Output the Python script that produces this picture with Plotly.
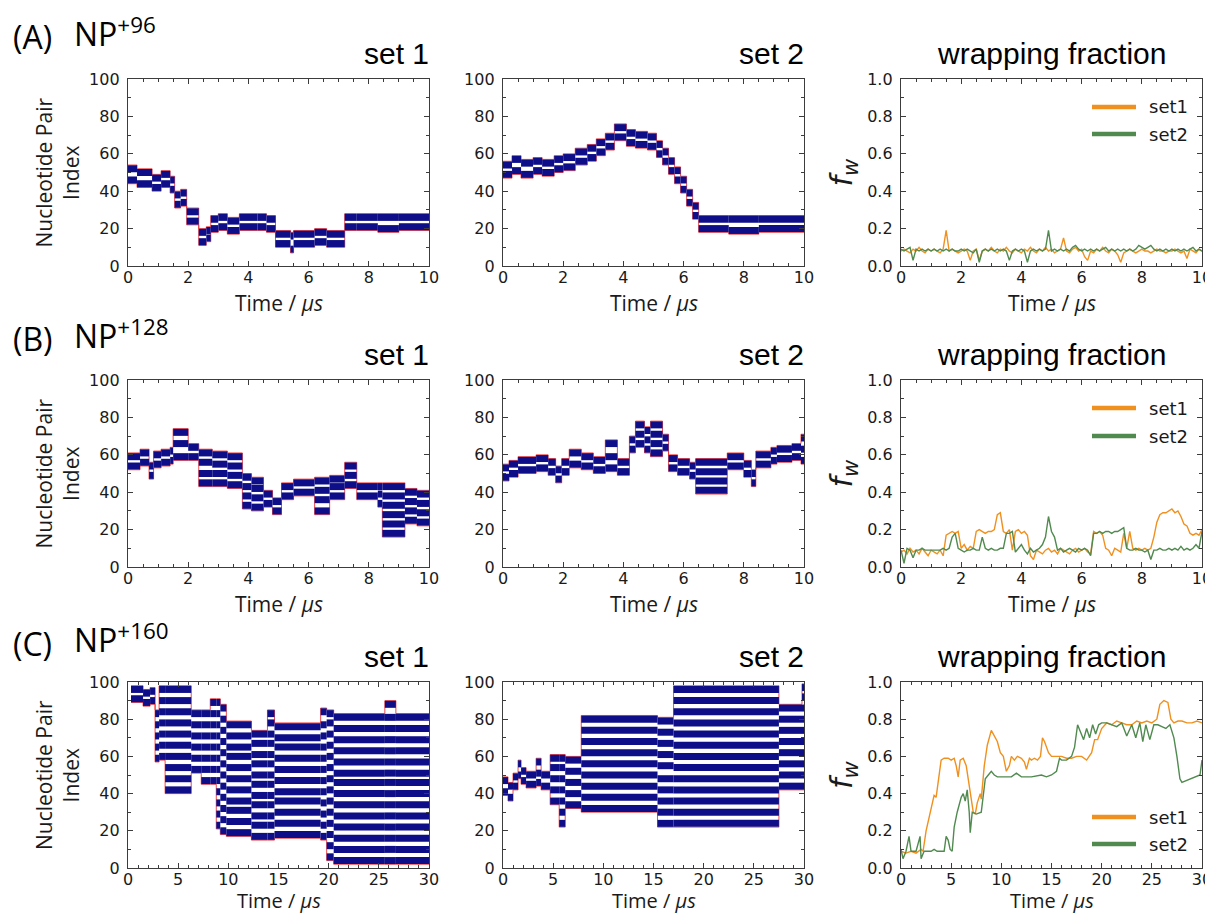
import plotly.graph_objects as go

# page offset of the plot div (browser default body margin)
OFF = 8
FW, FH = 1213 - OFF, 917 - OFF

# ------------------------------------------------------------------ data
# contact bands: segment edges (time, us) and band centres (nucleotide pair index)
A1_edges = [0, 0.3, 0.8, 1.1, 1.4, 1.55, 1.75, 1.95, 2.35, 2.6, 2.75, 3.0, 3.3, 3.7,
            4.3, 4.6, 4.9, 5.4, 5.5, 6.2, 6.6, 7.2, 7.6, 8.3, 9.0, 10]
A1_bands = [[46, 52], [44, 50], [42, 47], [44, 49], [41, 46], [33, 38], [34, 39], [24, 29],
            [13, 18], [15, 19], [20, 25], [21, 26], [19, 24], [21, 26], [21, 26], [20, 25],
            [12, 17], [9, 16], [12, 17], [13, 18], [12, 17], [21, 26], [21, 26], [20, 26],
            [21, 26]]

A2_edges = [0, 0.3, 0.6, 1.0, 1.3, 1.7, 2.0, 2.4, 2.8, 3.1, 3.4, 3.7, 4.1, 4.4, 4.8, 5.1,
            5.3, 5.5, 5.7, 5.9, 6.1, 6.3, 6.5, 7.5, 8.5, 10]
A2_bands = [[49, 54], [51, 57], [49, 55], [51, 56], [50, 55], [52, 57], [53, 58], [56, 61],
            [58, 63], [61, 66], [64, 69], [69, 74], [66, 71], [65, 70], [64, 69], [60, 65],
            [56, 61], [51, 56], [46, 51], [41, 46], [34, 39], [27, 32], [20, 25], [19, 25],
            [20, 25]]

B1_edges = [0, 0.4, 0.7, 0.85, 1.1, 1.4, 1.5, 2.0, 2.35, 2.8, 3.3, 3.8, 4.1, 4.5, 4.8, 5.1,
            5.5, 6.2, 6.7, 7.2, 7.6, 8.3, 8.45, 9.2, 9.6, 10]
B1_bands = [[54, 59], [56, 61], [49, 54], [55, 60], [56, 61], [57, 62], [59, 66, 72],
            [59, 64], [45, 50, 56, 61], [45, 50, 55, 60], [44, 49, 54, 59],
            [33, 38, 43, 48], [32, 37, 42, 46], [34, 39], [30, 35], [38, 43], [40, 45],
            [30, 36, 41, 46], [38, 43, 47], [44, 49, 54], [38, 43], [34, 39, 43],
            [18, 23, 28, 33, 38, 43], [25, 30, 35, 40], [24, 29, 34, 39]]

B2_edges = [0, 0.2, 0.5, 1.1, 1.5, 1.75, 1.95, 2.2, 2.6, 3.0, 3.4, 3.8, 4.2, 4.4, 4.7, 4.9,
            5.3, 5.5, 5.8, 6.2, 6.4, 7.45, 8.0, 8.25, 8.4, 8.9, 9.1, 9.6, 9.9, 10]
B2_bands = [[48, 53], [50, 55], [52, 57], [53, 58], [51, 56], [47, 52], [51, 56], [55, 61],
            [54, 59], [52, 57], [53, 59, 66], [51, 56], [63, 68], [66, 71, 76],
            [63, 68, 73], [61, 66, 71, 76], [64, 69], [53, 58], [51, 56], [49, 54],
            [41, 46, 51, 56], [54, 59], [50, 55], [45, 50], [55, 60], [57, 62], [58, 63],
            [59, 64], [57, 63, 69]]

C1_edges = [0.3, 1.5, 2.2, 2.7, 3.1, 3.7, 6.3, 7.3, 8.2, 8.8, 9.2, 9.8, 12.3, 13.9, 14.6,
            19.2, 19.8, 20.5, 25.6, 26.7, 30]
C1_bands = [[91, 96], [89, 94], [90, 95],
            [59, 65, 71, 77, 83],
            [60, 66, 72, 78, 84, 90, 96],
            [42, 48, 54, 60, 66, 72, 78, 84, 90, 96],
            [53, 59, 65, 71, 77, 83],
            [47, 53, 59, 65, 71, 77, 83],
            [47, 53, 59, 65, 71, 77, 83, 89],
            [23, 29, 35, 41, 47, 53, 59, 65, 71, 77, 83, 89],
            [20, 26, 32, 38, 44, 50, 56, 62, 68, 74, 80, 86],
            [19, 25, 31, 36, 42, 48, 54, 60, 65, 71, 77],
            [17, 23, 28, 34, 39, 45, 50, 56, 61, 67, 72],
            [17, 23, 28, 34, 39, 45, 50, 56, 61, 67, 72, 78, 83],
            [18, 24, 30, 36, 41, 47, 53, 59, 65, 70, 76],
            [17, 23, 29, 35, 41, 47, 53, 59, 65, 71, 77, 84],
            [6, 12, 18, 24, 30, 36, 42, 48, 54, 60, 66, 72, 78, 83],
            [4, 10, 16, 22, 28, 34, 40, 46, 51, 57, 63, 69, 75, 81],
            [4, 10, 16, 22, 28, 34, 40, 46, 51, 57, 63, 69, 75, 81, 88],
            [4, 10, 16, 22, 28, 34, 40, 46, 51, 57, 63, 69, 75, 81]]

C2_edges = [0, 0.5, 1.0, 1.5, 1.8, 2.3, 3.3, 3.8, 4.7, 5.6, 6.2, 7.8, 15.4, 17.0, 27.5,
            29.8, 30]
C2_bands = [[41, 47], [38, 44], [44, 49], [50, 56], [47, 52], [45, 50], [46, 51, 57],
            [44, 50],
            [36, 42, 48, 54, 59],
            [24, 30, 36, 42, 48, 54, 59],
            [34, 40, 46, 52, 58],
            [32, 38, 44, 50, 56, 62, 68, 74, 80],
            [24, 30, 36, 42, 48, 55, 61, 67, 73, 79],
            [24, 30, 36, 42, 48, 54, 60, 66, 72, 78, 84, 90, 96],
            [44, 50, 56, 62, 68, 74, 80, 86],
            [44, 50, 56, 62, 68, 74, 80, 86, 92, 97]]

# wrapping fraction
AB_wrap_t = [0.0, 0.1, 0.2, 0.3, 0.4, 0.5, 0.6, 0.7, 0.8, 0.9,
             1.0, 1.1, 1.2, 1.3, 1.4, 1.5, 1.6, 1.7, 1.8, 1.9,
             2.0, 2.1, 2.2, 2.3, 2.4, 2.5, 2.6, 2.7, 2.8, 2.9,
             3.0, 3.1, 3.2, 3.3, 3.4, 3.5, 3.6, 3.7, 3.8, 3.9,
             4.0, 4.1, 4.2, 4.3, 4.4, 4.5, 4.6, 4.7, 4.8, 4.9,
             5.0, 5.1, 5.2, 5.3, 5.4, 5.5, 5.6, 5.7, 5.8, 5.9,
             6.0, 6.1, 6.2, 6.3, 6.4, 6.5, 6.6, 6.7, 6.8, 6.9,
             7.0, 7.1, 7.2, 7.3, 7.4, 7.5, 7.6, 7.7, 7.8, 7.9,
             8.0, 8.1, 8.2, 8.3, 8.4, 8.5, 8.6, 8.7, 8.8, 8.9,
             9.0, 9.1, 9.2, 9.3, 9.4, 9.5, 9.6, 9.7, 9.8, 9.9, 10.0]
A_wrap_set1 = [0.08, 0.09, 0.08, 0.07, 0.09, 0.08, 0.10, 0.08, 0.07, 0.09,
               0.08, 0.09, 0.08, 0.07, 0.09, 0.19, 0.08, 0.09, 0.08, 0.07,
               0.08, 0.09, 0.08, 0.03, 0.08, 0.09, 0.03, 0.08, 0.09, 0.08,
               0.10, 0.08, 0.07, 0.09, 0.08, 0.10, 0.08, 0.07, 0.09, 0.08,
               0.07, 0.09, 0.08, 0.10, 0.08, 0.07, 0.09, 0.08, 0.10, 0.08,
               0.09, 0.07, 0.08, 0.09, 0.15, 0.08, 0.07, 0.09, 0.10, 0.08,
               0.09, 0.05, 0.03, 0.08, 0.07, 0.09, 0.08, 0.10, 0.08, 0.07,
               0.09, 0.08, 0.06, 0.02, 0.07, 0.08, 0.09, 0.08, 0.07, 0.08,
               0.09, 0.08, 0.08, 0.07, 0.08, 0.09, 0.08, 0.08, 0.07, 0.08,
               0.08, 0.09, 0.08, 0.07, 0.08, 0.04, 0.09, 0.08, 0.07, 0.09, 0.08]
A_wrap_set2 = [0.09, 0.08, 0.09, 0.10, 0.03, 0.09, 0.08, 0.09, 0.08, 0.09,
               0.08, 0.09, 0.08, 0.09, 0.08, 0.09, 0.08, 0.09, 0.08, 0.08,
               0.09, 0.08, 0.09, 0.08, 0.07, 0.09, 0.02, 0.08, 0.09, 0.08,
               0.09, 0.08, 0.09, 0.08, 0.09, 0.08, 0.03, 0.08, 0.09, 0.08,
               0.09, 0.08, 0.02, 0.08, 0.09, 0.08, 0.09, 0.08, 0.09, 0.19,
               0.08, 0.09, 0.08, 0.09, 0.08, 0.09, 0.08, 0.10, 0.11, 0.09,
               0.08, 0.09, 0.08, 0.09, 0.08, 0.09, 0.08, 0.09, 0.10, 0.08,
               0.09, 0.08, 0.09, 0.08, 0.09, 0.08, 0.09, 0.08, 0.09, 0.11,
               0.10, 0.09, 0.10, 0.11, 0.09, 0.08, 0.09, 0.08, 0.09, 0.08,
               0.09, 0.08, 0.09, 0.08, 0.09, 0.08, 0.09, 0.10, 0.08, 0.09, 0.08]
B_wrap_set1 = [0.08, 0.09, 0.07, 0.10, 0.08, 0.09, 0.07, 0.10, 0.08, 0.06,
               0.09, 0.08, 0.07, 0.09, 0.06, 0.17, 0.18, 0.19, 0.18, 0.19,
               0.10, 0.12, 0.09, 0.11, 0.10, 0.19, 0.20, 0.19, 0.18, 0.19,
               0.19, 0.20, 0.28, 0.29, 0.19, 0.18, 0.20, 0.09, 0.19, 0.20,
               0.18, 0.19, 0.17, 0.06, 0.04, 0.09, 0.08, 0.07, 0.09, 0.10,
               0.08, 0.09, 0.07, 0.10, 0.09, 0.08, 0.07, 0.09, 0.10, 0.08,
               0.09, 0.10, 0.08, 0.07, 0.19, 0.18, 0.19, 0.17, 0.10, 0.09,
               0.06, 0.10, 0.09, 0.08, 0.18, 0.10, 0.19, 0.10, 0.09, 0.10,
               0.09, 0.10, 0.09, 0.10, 0.16, 0.24, 0.28, 0.29, 0.29, 0.30,
               0.31, 0.29, 0.30, 0.27, 0.23, 0.22, 0.18, 0.17, 0.18, 0.17, 0.20]
B_wrap_set2 = [0.09, 0.02, 0.10, 0.09, 0.05, 0.09, 0.09, 0.10, 0.09, 0.09,
               0.09, 0.09, 0.09, 0.09, 0.10, 0.09, 0.10, 0.16, 0.18, 0.10,
               0.09, 0.08, 0.09, 0.09, 0.10, 0.09, 0.09, 0.16, 0.10, 0.09,
               0.10, 0.09, 0.09, 0.10, 0.10, 0.18, 0.18, 0.19, 0.08, 0.10,
               0.12, 0.09, 0.07, 0.10, 0.08, 0.09, 0.10, 0.12, 0.16, 0.27,
               0.19, 0.16, 0.09, 0.10, 0.08, 0.09, 0.10, 0.09, 0.08, 0.10,
               0.09, 0.10, 0.09, 0.06, 0.18, 0.18, 0.19, 0.18, 0.19, 0.19,
               0.18, 0.19, 0.19, 0.20, 0.21, 0.10, 0.09, 0.09, 0.10, 0.09,
               0.09, 0.08, 0.09, 0.04, 0.09, 0.09, 0.10, 0.09, 0.09, 0.10,
               0.09, 0.10, 0.09, 0.11, 0.09, 0.10, 0.09, 0.10, 0.12, 0.10, 0.19]

C_wrap_set1_t = [0, 0.5, 1.0, 1.5, 2.0, 2.2, 2.5, 2.8, 3.0, 3.3, 3.5, 3.8, 4.0, 4.3, 4.7,
                 5.0, 5.3, 5.5, 5.7, 5.9, 6.2, 6.5, 6.8, 7.0, 7.2, 7.4, 7.6, 7.9, 8.0,
                 8.3, 8.6, 9.0, 9.3, 9.6, 9.9, 10.2, 10.5, 10.8, 11.0, 11.3, 11.6, 12.0,
                 12.3, 12.5, 12.8, 13.0, 13.3, 13.6, 13.9, 14.1, 14.3, 14.5, 14.7, 15.0,
                 15.5, 16.0, 16.5, 17.0, 17.5, 18.0, 18.5, 19.0, 19.3, 19.6, 20.0, 20.5,
                 21.0, 21.5, 22.0, 22.5, 23.0, 23.5, 24.0, 24.5, 25.0, 25.5, 25.8, 26.2,
                 26.6, 26.9, 27.2, 27.6, 28.0, 28.5, 29.0, 29.5, 30.0]
C_wrap_set1 = [0.09, 0.08, 0.09, 0.08, 0.10, 0.09, 0.20, 0.27, 0.31, 0.39, 0.38, 0.50,
               0.58, 0.59, 0.59, 0.58, 0.59, 0.55, 0.49, 0.58, 0.59, 0.55, 0.45, 0.38,
               0.30, 0.29, 0.35, 0.40, 0.37, 0.55, 0.66, 0.74, 0.71, 0.68, 0.62, 0.60,
               0.52, 0.55, 0.60, 0.58, 0.60, 0.59, 0.57, 0.53, 0.59, 0.58, 0.59, 0.58,
               0.60, 0.70, 0.68, 0.65, 0.62, 0.60, 0.60, 0.60, 0.59, 0.59, 0.60, 0.60,
               0.58, 0.62, 0.69, 0.69, 0.75, 0.78, 0.77, 0.79, 0.78, 0.77, 0.77, 0.79,
               0.78, 0.79, 0.78, 0.80, 0.88, 0.90, 0.89, 0.80, 0.78, 0.79, 0.79, 0.78,
               0.78, 0.79, 0.78]
C_wrap_set2_t = [0, 0.2, 0.5, 0.8, 1.0, 1.5, 1.9, 2.0, 2.3, 3.0, 3.3, 3.6, 4.0, 4.3, 4.5,
                 4.7, 4.9, 5.1, 5.3, 5.6, 6.0, 6.2, 6.4, 6.6, 6.8, 6.9, 7.1, 7.5, 8.0, 8.2,
                 8.4, 8.7, 9.0, 9.3, 9.6, 10.0, 11.0, 11.5, 12.0, 13.0, 14.0, 14.5, 15.0,
                 15.5, 15.8, 16.0, 16.5, 17.0, 17.3, 17.6, 18.0, 18.2, 18.5, 18.8, 19.1,
                 19.4, 19.7, 20.0, 20.5, 21.0, 21.5, 22.0, 22.5, 23.0, 23.4, 23.8, 24.1,
                 24.4, 24.8, 25.2, 25.6, 26.0, 26.4, 26.8, 27.2, 27.5, 27.8, 28.0, 28.5,
                 29.0, 29.5, 29.8, 30.0]
C_wrap_set2 = [0.10, 0.05, 0.09, 0.17, 0.09, 0.09, 0.17, 0.05, 0.09, 0.09, 0.10, 0.09,
               0.09, 0.09, 0.17, 0.15, 0.10, 0.09, 0.22, 0.30, 0.38, 0.40, 0.36, 0.42,
               0.30, 0.19, 0.30, 0.29, 0.30, 0.38, 0.48, 0.50, 0.52, 0.50, 0.49, 0.49,
               0.49, 0.51, 0.49, 0.49, 0.50, 0.49, 0.50, 0.52, 0.59, 0.58, 0.58, 0.60,
               0.65, 0.77, 0.72, 0.69, 0.75, 0.70, 0.77, 0.72, 0.77, 0.78, 0.78, 0.77,
               0.76, 0.78, 0.71, 0.77, 0.70, 0.78, 0.68, 0.77, 0.69, 0.77, 0.77, 0.76,
               0.75, 0.77, 0.70, 0.60, 0.48, 0.46, 0.47, 0.48, 0.49, 0.50, 0.58]

row_tags = ["(A)", "(B)", "(C)"]
row_np = ["NP<sup>+96</sup>", "NP<sup>+128</sup>", "NP<sup>+160</sup>"]
col_titles = ["set 1", "set 2", "wrapping fraction"]
legend_names = ["set1", "set2"]

for e, b in [(A1_edges, A1_bands), (A2_edges, A2_bands), (B1_edges, B1_bands),
             (B2_edges, B2_bands), (C1_edges, C1_bands), (C2_edges, C2_bands)]:
    assert len(e) == len(b) + 1, (len(e), len(b))
for t, v in [(AB_wrap_t, A_wrap_set1), (AB_wrap_t, A_wrap_set2), (AB_wrap_t, B_wrap_set1),
             (AB_wrap_t, B_wrap_set2), (C_wrap_set1_t, C_wrap_set1),
             (C_wrap_set2_t, C_wrap_set2)]:
    assert len(t) == len(v), (len(t), len(v))

# ------------------------------------------------------------------ style
NAVY = "#0e0e88"
RED = "rgba(235,45,45,0.85)"
ORANGE = "#f0901e"
GREEN = "#508a4f"
FRAME = "#3c3c3c"
TXT = "#1a1a1a"
PAD = 2.0

# window-pixel positions of the plot areas
cols = [(128, 429), (503, 804), (901, 1202)]
rows = [(79, 266), (380, 567), (682, 868)]
legend_rows = [(107, 134), (408, 436), (817, 844)]


def PX(x):
    return (x - OFF) / FW


def PY(y):
    return 1 - (y - OFF) / FH


fig = go.Figure()


def ax_names(r, c):
    n = r * 3 + c + 1
    s = "" if n == 1 else str(n)
    return "x" + s, "y" + s, "xaxis" + s, "yaxis" + s


def add_bands(edges, bands, xa, ya):
    ex, top, bot = [], [], []
    for i, lv in enumerate(bands):
        ex.append(edges[i]); top.append(max(lv) + PAD); bot.append(min(lv) - PAD)
    ex.append(edges[-1]); top.append(top[-1]); bot.append(bot[-1])
    for env in (top, bot):
        fig.add_trace(go.Scatter(x=ex, y=env, mode="lines", xaxis=xa, yaxis=ya,
                                 line=dict(color=RED, width=1, shape="hv"),
                                 showlegend=False, hoverinfo="skip"))
    xs, ys = [], []
    for i, lv in enumerate(bands):
        for l in lv:
            xs += [edges[i], edges[i + 1], None]
            ys += [l, l, None]
    fig.add_trace(go.Scatter(x=xs, y=ys, mode="lines", xaxis=xa, yaxis=ya,
                             line=dict(color=NAVY, width=7),
                             showlegend=False, hoverinfo="skip"))


band_data = [[(A1_edges, A1_bands), (A2_edges, A2_bands)],
             [(B1_edges, B1_bands), (B2_edges, B2_bands)],
             [(C1_edges, C1_bands), (C2_edges, C2_bands)]]
wrap_data = [[(AB_wrap_t, A_wrap_set1), (AB_wrap_t, A_wrap_set2)],
             [(AB_wrap_t, B_wrap_set1), (AB_wrap_t, B_wrap_set2)],
             [(C_wrap_set1_t, C_wrap_set1), (C_wrap_set2_t, C_wrap_set2)]]

layout = {}
annotations = []
shapes = []
tick_font = dict(family="DejaVu Sans", size=16, color=TXT)

for r in range(3):
    y0, y1 = rows[r]
    tmax = 30 if r == 2 else 10
    for c in range(3):
        x0, x1 = cols[c]
        xa, ya, xk, yk = ax_names(r, c)
        wrap = c == 2
        layout[xk] = dict(domain=[PX(x0), PX(x1)], anchor=ya, range=[0, tmax],
                          dtick=5 if r == 2 else 2, tick0=0, automargin=False,
                          showline=True, mirror="ticks", linecolor=FRAME, linewidth=1.3,
                          ticks="inside", ticklen=5, tickwidth=1.1, tickcolor=FRAME,
                          minor=dict(ticks="inside", ticklen=3, tickwidth=1, tickcolor=FRAME,
                                     dtick=1 if r == 2 else 0.5),
                          showgrid=False, zeroline=False, tickfont=tick_font,
                          ticklabelstandoff=-3, fixedrange=True)
        layout[yk] = dict(domain=[PY(y1), PY(y0)], anchor=xa,
                          range=[0, 1] if wrap else [0, 100], automargin=False,
                          dtick=0.2 if wrap else 20, tick0=0,
                          tickformat=".1f" if wrap else "d",
                          showline=True, mirror="ticks", linecolor=FRAME, linewidth=1.3,
                          ticks="inside", ticklen=5, tickwidth=1.1, tickcolor=FRAME,
                          minor=dict(ticks="inside", ticklen=3, tickwidth=1, tickcolor=FRAME,
                                     dtick=0.1 if wrap else 10),
                          showgrid=False, zeroline=False, tickfont=tick_font,
                          ticklabelstandoff=4, fixedrange=True)
        if not wrap:
            e, b = band_data[r][c]
            add_bands(e, b, xa, ya)
        else:
            for k, (tt, vv) in enumerate(wrap_data[r]):
                fig.add_trace(go.Scatter(x=tt, y=vv, mode="lines", xaxis=xa, yaxis=ya,
                                         line=dict(color=[ORANGE, GREEN][k], width=1.4),
                                         name=legend_names[k], showlegend=False,
                                         hoverinfo="skip"))
            # legend (drawn as key lines + labels)
            for k in range(2):
                ly_ = legend_rows[r][k]
                shapes.append(dict(type="line", xref="paper", yref="paper",
                                   x0=PX(1092), x1=PX(1136), y0=PY(ly_), y1=PY(ly_),
                                   line=dict(color=[ORANGE, GREEN][k], width=4.5)))
                annotations.append(dict(text=legend_names[k], x=PX(1147), xanchor="left",
                                        y=PY(ly_), yanchor="middle",
                                        font=dict(family="DejaVu Sans", size=18, color=TXT)))
        # column title
        if wrap:
            annotations.append(dict(text=col_titles[c], x=PX((x0 + x1) / 2), xanchor="center",
                                    y=PY(y0 - 26), yanchor="middle",
                                    font=dict(family="Liberation Sans", size=30, color="black")))
        else:
            annotations.append(dict(text=col_titles[c], x=PX(x1 + 2), xanchor="right",
                                    y=PY(y0 - 26), yanchor="middle",
                                    font=dict(family="Liberation Sans", size=30, color="black")))
        # x title
        if r < 2:
            annotations.append(dict(text="Time / <i>μs</i>", x=PX((x0 + x1) / 2),
                                    xanchor="center", y=PY(y1 + 37), yanchor="middle",
                                    font=dict(family="Open Sans", size=21, color=TXT)))
        else:
            annotations.append(dict(text="Time / <i>μs</i>", x=PX((x0 + x1) / 2),
                                    xanchor="center", y=PY(916), yanchor="bottom",
                                    font=dict(family="Open Sans", size=20, color=TXT)))
    # y titles
    yc = PY((rows[r][0] + rows[r][1]) / 2)
    annotations.append(dict(text="Nucleotide Pair<br>Index", x=PX(57), xanchor="center",
                            y=yc, yanchor="middle", textangle=-90,
                            font=dict(family="Open Sans", size=21, color=TXT)))
    annotations.append(dict(text="<i>f<sub>w</sub></i>", x=PX(843), xanchor="center",
                            y=yc, yanchor="middle", textangle=-90,
                            font=dict(family="DejaVu Sans", size=30, color=TXT)))
    # row labels
    ly = [37, 339, 643][r]
    annotations.append(dict(text=row_tags[r], x=PX(11), xanchor="left", y=PY(ly),
                            yanchor="middle",
                            font=dict(family="Open Sans", size=32, color="black")))
    annotations.append(dict(text=row_np[r], x=PX(72), xanchor="left", y=PY(ly - 5),
                            yanchor="middle",
                            font=dict(family="Open Sans", size=32, color="black")))

for a in annotations:
    a.update(xref="paper", yref="paper", showarrow=False)

fig.update_layout(**layout)
fig.update_layout(width=FW, height=FH, autosize=False,
                  margin=dict(l=0, r=0, t=0, b=0, autoexpand=False),
                  paper_bgcolor="white", plot_bgcolor="white", showlegend=False,
                  annotations=annotations, shapes=shapes, hovermode=False)

fig.write_html("out.html", config={"displayModeBar": False})
